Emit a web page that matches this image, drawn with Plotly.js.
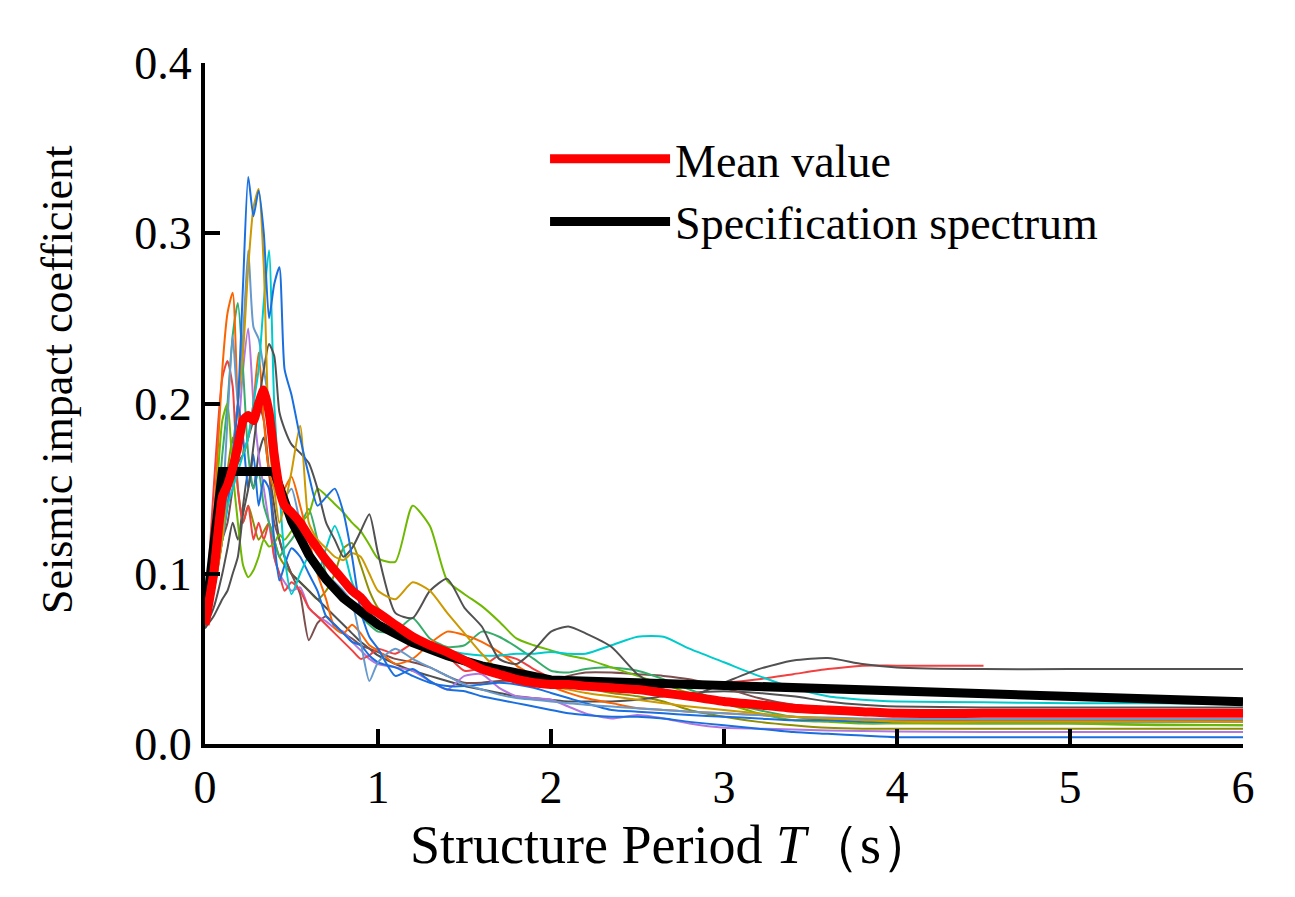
<!DOCTYPE html>
<html>
<head>
<meta charset="utf-8">
<script src="https://cdn.plot.ly/plotly-3.0.1.min.js"></script>
<style>
  body { margin: 0; background: #fff; }
  #spectrum-chart { width: 1295px; height: 897px; }
</style>
</head>
<body>
<div id="spectrum-chart"></div>
<script>
'use strict';

// structure period grid (s) shared by the records and the mean curve
var periods = [0, 0.05, 0.1, 0.13, 0.16, 0.19, 0.22, 0.25, 0.28, 0.31, 0.34, 0.37, 0.4,
	0.43, 0.46, 0.5, 0.55, 0.6, 0.65, 0.7, 0.75, 0.8, 0.85, 0.9, 0.95, 1.0,
	1.1, 1.2, 1.3, 1.4, 1.5, 1.6, 1.7, 1.8, 1.9, 2.0, 2.1, 2.2, 2.35,
	2.5, 2.65, 2.8, 3.0, 3.2, 3.4, 3.6, 3.8, 4.0, 4.5, 5.0, 5.5, 6.0];

// seismic impact coefficient of each ground motion record
var recBlue1 = [0.07, 0.1, 0.13, 0.15, 0.17, 0.2, 0.27, 0.333, 0.31, 0.325, 0.3, 0.25, 0.27,
	0.28, 0.22, 0.205, 0.18, 0.158, 0.14, 0.145, 0.15, 0.136, 0.11, 0.078, 0.063, 0.056,
	0.04, 0.044, 0.037, 0.032, 0.031, 0.028, 0.026, 0.024, 0.022, 0.02, 0.018, 0.017, 0.016,
	0.016, 0.015, 0.013, 0.011, 0.009, 0.007, 0.006, 0.005, 0.004, 0.004, 0.004, 0.004, 0.004];
var recBlue2 = [0.07, 0.09, 0.12, 0.14, 0.17, 0.2, 0.18, 0.15, 0.17, 0.14, 0.155, 0.15, 0.12,
	0.096, 0.105, 0.115, 0.11, 0.1, 0.09, 0.075, 0.07, 0.065, 0.06, 0.058, 0.052, 0.048,
	0.045, 0.04, 0.036, 0.034, 0.034, 0.035, 0.036, 0.035, 0.033, 0.03, 0.027, 0.024, 0.02,
	0.019, 0.018, 0.017, 0.016, 0.015, 0.014, 0.014, 0.013, 0.013, 0.013, 0.013, 0.013, 0.013];
var recGold = [0.07, 0.09, 0.12, 0.15, 0.17, 0.2, 0.23, 0.28, 0.315, 0.326, 0.28, 0.18, 0.15,
	0.13, 0.14, 0.16, 0.187, 0.13, 0.12, 0.115, 0.11, 0.108, 0.112, 0.11, 0.1, 0.09,
	0.085, 0.095, 0.09, 0.077, 0.065, 0.053, 0.043, 0.038, 0.036, 0.034, 0.032, 0.03, 0.028,
	0.026, 0.024, 0.022, 0.02, 0.018, 0.016, 0.015, 0.014, 0.013, 0.013, 0.013, 0.013, 0.013];
var recLightBlue = [0.07, 0.095, 0.14, 0.19, 0.24, 0.2, 0.24, 0.29, 0.245, 0.238, 0.22, 0.2, 0.17,
	0.155, 0.145, 0.15, 0.13, 0.115, 0.105, 0.1, 0.095, 0.09, 0.083, 0.06, 0.037, 0.048,
	0.056, 0.05, 0.045, 0.04, 0.035, 0.032, 0.029, 0.027, 0.026, 0.025, 0.024, 0.023, 0.022,
	0.021, 0.02, 0.019, 0.018, 0.017, 0.016, 0.0155, 0.015, 0.0147, 0.0147, 0.0147, 0.0147, 0.0147];
var recCyan = [0.07, 0.09, 0.12, 0.14, 0.15, 0.16, 0.17, 0.18, 0.2, 0.22, 0.26, 0.29, 0.2,
	0.15, 0.11, 0.088, 0.1, 0.11, 0.1, 0.115, 0.128, 0.115, 0.095, 0.085, 0.075, 0.07,
	0.065, 0.06, 0.057, 0.055, 0.053, 0.052, 0.052, 0.053, 0.053, 0.054, 0.053, 0.053, 0.058,
	0.063, 0.063, 0.056, 0.048, 0.04, 0.033, 0.028, 0.026, 0.025, 0.0245, 0.024, 0.024, 0.0235];
var recOrange = [0.07, 0.13, 0.22, 0.253, 0.265, 0.2, 0.17, 0.18, 0.2, 0.23, 0.19, 0.16, 0.15,
	0.145, 0.15, 0.157, 0.14, 0.12, 0.1, 0.085, 0.068, 0.065, 0.07, 0.065, 0.058, 0.055,
	0.047, 0.05, 0.059, 0.066, 0.064, 0.06, 0.054, 0.046, 0.04, 0.034, 0.03, 0.027, 0.024,
	0.021, 0.02, 0.019, 0.018, 0.017, 0.016, 0.015, 0.0145, 0.014, 0.014, 0.014, 0.014, 0.014];
var recGreen = [0.07, 0.11, 0.17, 0.2, 0.24, 0.259, 0.22, 0.17, 0.15, 0.16, 0.14, 0.13, 0.12,
	0.11, 0.115, 0.12, 0.128, 0.138, 0.12, 0.1, 0.09, 0.085, 0.08, 0.075, 0.07, 0.066,
	0.066, 0.074, 0.062, 0.057, 0.058, 0.066, 0.063, 0.057, 0.05, 0.043, 0.042, 0.044, 0.045,
	0.043, 0.038, 0.032, 0.025, 0.02, 0.016, 0.014, 0.013, 0.0125, 0.012, 0.012, 0.0115, 0.011];
var recRed = [0.07, 0.15, 0.215, 0.225, 0.21, 0.15, 0.13, 0.14, 0.12, 0.13, 0.12, 0.13, 0.11,
	0.1, 0.09, 0.095, 0.09, 0.08, 0.075, 0.07, 0.065, 0.06, 0.055, 0.05, 0.052, 0.056,
	0.053, 0.059, 0.06, 0.052, 0.043, 0.045, 0.052, 0.05, 0.044, 0.039, 0.037, 0.036, 0.035,
	0.035, 0.035, 0.035, 0.036, 0.038, 0.041, 0.044, 0.046, 0.046, 0.046, null, null, null];
var recPurple = [0.07, 0.09, 0.12, 0.14, 0.16, 0.18, 0.22, 0.244, 0.2, 0.17, 0.15, 0.13, 0.11,
	0.1, 0.095, 0.09, 0.092, 0.08, 0.075, 0.072, 0.068, 0.066, 0.06, 0.055, 0.05, 0.047,
	0.045, 0.043, 0.037, 0.032, 0.04, 0.041, 0.033, 0.028, 0.027, 0.026, 0.022, 0.018, 0.015,
	0.017, 0.015, 0.012, 0.0095, 0.009, 0.0085, 0.008, 0.0076, 0.0073, 0.007, 0.007, 0.007, 0.007];
var recBrown = [0.07, 0.09, 0.12, 0.13, 0.15, 0.165, 0.17, 0.18, 0.19, 0.2, 0.19, 0.16, 0.13,
	0.12, 0.11, 0.1, 0.088, 0.061, 0.071, 0.075, 0.07, 0.065, 0.062, 0.058, 0.056, 0.054,
	0.05, 0.048, 0.045, 0.04, 0.036, 0.036, 0.037, 0.037, 0.036, 0.037, 0.04, 0.042, 0.042,
	0.041, 0.04, 0.038, 0.033, 0.027, 0.023, 0.021, 0.02, 0.019, 0.019, 0.019, 0.019, 0.019];
var recOlive = [0.07, 0.1, 0.13, 0.16, 0.18, 0.15, 0.13, 0.14, 0.13, 0.12, 0.125, 0.13, 0.12,
	0.11, 0.105, 0.1, 0.095, 0.09, 0.085, 0.09, 0.1, 0.115, 0.118, 0.105, 0.09, 0.08,
	0.07, 0.062, 0.055, 0.05, 0.047, 0.045, 0.043, 0.042, 0.04, 0.038, 0.035, 0.033, 0.03,
	0.028, 0.025, 0.02, 0.016, 0.013, 0.011, 0.0095, 0.009, 0.009, 0.009, 0.009, 0.009, 0.009];
var recGray1 = [0.068, 0.075, 0.085, 0.09, 0.1, 0.11, 0.135, 0.15, 0.175, 0.2, 0.22, 0.235, 0.228,
	0.195, 0.185, 0.176, 0.171, 0.165, 0.15, 0.13, 0.12, 0.11, 0.115, 0.125, 0.135, 0.112,
	0.077, 0.074, 0.09, 0.097, 0.08, 0.069, 0.05, 0.047, 0.055, 0.066, 0.069, 0.065, 0.057,
	0.041, 0.032, 0.028, 0.036, 0.044, 0.049, 0.0505, 0.047, 0.045, 0.044, 0.044, 0.044, 0.044];
var recGray2 = [0.068, 0.08, 0.1, 0.115, 0.13, 0.12, 0.14, 0.16, 0.15, 0.17, 0.18, 0.16, 0.14,
	0.12, 0.11, 0.1, 0.095, 0.09, 0.085, 0.08, 0.075, 0.07, 0.065, 0.06, 0.056, 0.052,
	0.047, 0.043, 0.04, 0.037, 0.034, 0.032, 0.03, 0.028, 0.027, 0.026, 0.025, 0.025, 0.025,
	0.026, 0.028, 0.03, 0.031, 0.03, 0.028, 0.025, 0.023, 0.022, 0.0215, 0.0215, 0.0215, 0.0215];
var recLime = [0.07, 0.12, 0.19, 0.2, 0.16, 0.13, 0.105, 0.098, 0.102, 0.11, 0.12, 0.116, 0.118,
	0.123, 0.12, 0.125, 0.13, 0.135, 0.15, 0.146, 0.141, 0.136, 0.13, 0.125, 0.117, 0.109,
	0.107, 0.14, 0.128, 0.096, 0.088, 0.081, 0.072, 0.062, 0.058, 0.055, 0.052, 0.05, 0.045,
	0.04, 0.035, 0.03, 0.024, 0.018, 0.014, 0.013, 0.012, 0.012, 0.012, 0.012, 0.011, 0.011];

// mean of all records
var meanValue = [0.07, 0.1, 0.145, 0.152, 0.162, 0.175, 0.19, 0.193, 0.19, 0.2, 0.208, 0.195, 0.17,
	0.15, 0.14, 0.136, 0.13, 0.122, 0.115, 0.108, 0.102, 0.096, 0.09, 0.086, 0.08, 0.077,
	0.07, 0.063, 0.058, 0.054, 0.049, 0.044, 0.041, 0.038, 0.036, 0.035, 0.035, 0.034, 0.033,
	0.032, 0.03, 0.028, 0.025, 0.023, 0.021, 0.02, 0.019, 0.018, 0.018, 0.018, 0.018, 0.018];

// code design spectrum
var specPeriods = [0, 0.1, 0.4, 0.5, 0.6, 0.7, 0.8, 0.9, 1.0, 1.2, 1.4, 1.6, 1.8, 2.0, 3.0, 4.0, 5.0, 6.0];
var specValues = [0.072, 0.16, 0.16, 0.131, 0.111, 0.0967, 0.0857, 0.0771, 0.0701, 0.0595,
	0.0518, 0.0459, 0.0413, 0.0376, 0.0344, 0.0312, 0.028, 0.0248];

var xTickVals = [0, 1, 2, 3, 4, 5, 6];
var yTickVals = [0, 0.1, 0.2, 0.3, 0.4];

const createSpectrumChart = function () {
	var serif = 'Liberation Serif, Times New Roman, serif';

	// thin lines for the single records, colours as in Origin's default list
	var records = [
		{ y: recOlive, color: '#8E8E00' },
		{ y: recGray2, color: '#515151' },
		{ y: recBrown, color: '#7D4E4E' },
		{ y: recPurple, color: '#B177DE' },
		{ y: recRed, color: '#F14040' },
		{ y: recGreen, color: '#37AD6B' },
		{ y: recOrange, color: '#FB6501' },
		{ y: recLime, color: '#6FB802' },
		{ y: recBlue2, color: '#1A6FDF' },
		{ y: recLightBlue, color: '#6699CC' },
		{ y: recCyan, color: '#00CBCC' },
		{ y: recGray1, color: '#515151' },
		{ y: recGold, color: '#CC9900' },
		{ y: recBlue1, color: '#1A6FDF' },
	];

	var traces = records.map(function (r) {
		return {
			x: periods,
			y: r.y,
			type: 'scatter',
			mode: 'lines',
			line: { color: r.color, width: 2, shape: 'spline', smoothing: 0.6 },
			showlegend: false,
			hoverinfo: 'none',
		};
	});

	traces.push({
		x: specPeriods,
		y: specValues,
		name: 'Specification spectrum',
		type: 'scatter',
		mode: 'lines',
		line: { color: '#000000', width: 9 },
		legendrank: 2,
		hoverinfo: 'none',
	});
	traces.push({
		x: periods,
		y: meanValue,
		name: 'Mean value',
		type: 'scatter',
		mode: 'lines',
		line: { color: '#FF0000', width: 9, shape: 'spline', smoothing: 0.5 },
		legendrank: 1,
		hoverinfo: 'none',
	});

	var axisStyle = {
		showgrid: false,
		zeroline: false,
		showline: true,
		linecolor: '#000',
		linewidth: 4,
		ticks: 'inside',
		ticklen: 15,
		tickwidth: 4,
		tickcolor: '#000',
		tickfont: { family: serif, size: 46, color: '#000' },
	};

	var layout = {
		width: 1295,
		height: 897,
		margin: { l: 205, r: 52, t: 63, b: 153 },
		paper_bgcolor: '#fff',
		plot_bgcolor: '#fff',
		font: { family: serif, color: '#000' },
		showlegend: true,
		legend: {
			x: 0.3276,
			y: 0.913,
			xanchor: 'left',
			yanchor: 'top',
			bgcolor: 'rgba(0,0,0,0)',
			font: { family: serif, size: 46, color: '#000' },
			itemwidth: 120,
			traceorder: 'normal',
		},
		xaxis: Object.assign({}, axisStyle, {
			range: [0, 6],
			tickvals: xTickVals,
			ticktext: xTickVals.map(String),
		}),
		yaxis: Object.assign({}, axisStyle, {
			range: [0, 0.4],
			tickvals: yTickVals,
			ticktext: yTickVals.map(function (v) { return v.toFixed(1); }),
		}),
		annotations: [
			{
				text: 'Structure Period <i>T</i>（s）',
				xref: 'paper', yref: 'paper',
				x: 0.45, y: -0.148,
				xanchor: 'center', yanchor: 'middle',
				showarrow: false,
				font: { family: serif, size: 54, color: '#000' },
			},
			{
				text: 'Seismic impact coefficient',
				xref: 'paper', yref: 'paper',
				x: -0.1426, y: 0.5345,
				xanchor: 'center', yanchor: 'middle',
				textangle: -90,
				showarrow: false,
				font: { family: serif, size: 44, color: '#000' },
			},
		],
	};

	Plotly.newPlot('spectrum-chart', traces, layout, { displayModeBar: false, staticPlot: true });
};

document.addEventListener('DOMContentLoaded', createSpectrumChart);
</script>
</body>
</html>
